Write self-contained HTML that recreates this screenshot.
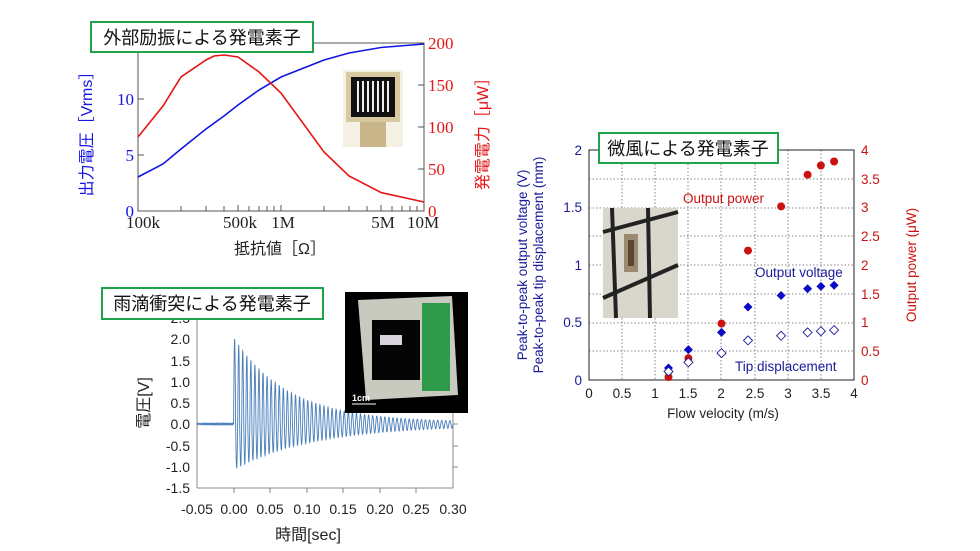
<!DOCTYPE html>
<html><head><meta charset="utf-8">
<style>
html,body{margin:0;padding:0;background:#fff;}
svg{display:block;}
.ser{font-family:"Liberation Serif","Noto Serif CJK SC",serif;}
.sans{font-family:"Liberation Sans","Noto Sans CJK JP",sans-serif;}
</style></head>
<body>
<svg id="s" width="980" height="551" viewBox="0 0 980 551" xmlns="http://www.w3.org/2000/svg">
<rect width="980" height="551" fill="#fff"/>

<!-- ===== Chart 1 ===== -->
<g>
<rect x="138" y="43" width="286" height="168" fill="none" stroke="#555" stroke-width="1"/>
<g stroke="#555" stroke-width="1">
<line x1="138" y1="155" x2="144" y2="155"/><line x1="138" y1="99" x2="144" y2="99"/>
<line x1="424" y1="169" x2="418" y2="169"/><line x1="424" y1="127" x2="418" y2="127"/><line x1="424" y1="85" x2="418" y2="85"/>
<line x1="181" y1="211" x2="181" y2="206"/><line x1="206" y1="211" x2="206" y2="206"/><line x1="224" y1="211" x2="224" y2="206"/>
<line x1="238" y1="211" x2="238" y2="205"/><line x1="249" y1="211" x2="249" y2="206"/><line x1="259" y1="211" x2="259" y2="206"/><line x1="267" y1="211" x2="267" y2="206"/><line x1="274" y1="211" x2="274" y2="206"/>
<line x1="281" y1="211" x2="281" y2="205"/><line x1="324" y1="211" x2="324" y2="206"/><line x1="349" y1="211" x2="349" y2="206"/><line x1="367" y1="211" x2="367" y2="206"/><line x1="381" y1="211" x2="381" y2="205"/><line x1="392" y1="211" x2="392" y2="206"/><line x1="402" y1="211" x2="402" y2="206"/><line x1="410" y1="211" x2="410" y2="206"/><line x1="417" y1="211" x2="417" y2="206"/>
</g>
<polyline fill="none" stroke="#1414e6" stroke-width="1.6" points="138,177 163,164 181,149 206,129 224,116 238,105 259,90 281,77 324,60 349,53 381,47.5 424,44"/>
<polyline fill="none" stroke="#e61414" stroke-width="1.6" points="138,137 163,106 181,77 206,60 214,56 224,55 238,57 259,72 281,93 324,152 349,176 381,192.5 424,202"/>
<g class="ser" font-size="17" fill="#1414e6" text-anchor="end">
<text x="134" y="217">0</text><text x="134" y="161">5</text><text x="134" y="105">10</text>
</g>
<g class="ser" font-size="17" fill="#e61414">
<text x="428" y="217">0</text><text x="428" y="175">50</text><text x="428" y="133">100</text><text x="428" y="91">150</text><text x="428" y="49">200</text>
</g>
<g class="ser" font-size="17" fill="#222" text-anchor="middle">
<text x="143" y="228">100k</text><text x="240" y="228">500k</text><text x="283" y="228">1M</text><text x="383" y="228">5M</text><text x="423" y="228">10M</text>
</g>
<text class="sans" font-size="16" fill="#222" x="280" y="254" text-anchor="middle">抵抗値［Ω］</text>
<text class="sans" font-size="16" fill="#1414e6" transform="translate(92,130) rotate(-90)" text-anchor="middle">出力電圧［Vrms］</text>
<text class="sans" font-size="16" fill="#e61414" transform="translate(488,130) rotate(-90)" text-anchor="middle">発電電力［μW］</text>
<rect x="343" y="70" width="60" height="77" fill="#f4f0e4"/>
<rect x="346" y="72" width="54" height="50" fill="#d8c9a0"/>
<rect x="351" y="77" width="44" height="40" fill="#111"/>
<g stroke="#eee" stroke-width="2"><line x1="358" y1="81" x2="358" y2="112"/><line x1="363" y1="81" x2="363" y2="112"/><line x1="368" y1="81" x2="368" y2="112"/><line x1="373" y1="81" x2="373" y2="112"/><line x1="378" y1="81" x2="378" y2="112"/><line x1="383" y1="81" x2="383" y2="112"/><line x1="388" y1="81" x2="388" y2="112"/></g>
<rect x="360" y="122" width="26" height="25" fill="#c9b58a"/>
<rect x="91" y="22" width="222" height="30" fill="#fff" stroke="#1fa34a" stroke-width="2"/>
<text class="sans" font-size="18" fill="#111" x="202" y="44" text-anchor="middle">外部励振による発電素子</text>
</g>

<!-- ===== Chart 2 ===== -->
<g>
<g stroke="#888" stroke-width="1" fill="none">
<line x1="197" y1="318" x2="197" y2="488"/><line x1="197" y1="488" x2="453" y2="488"/>
<line x1="453" y1="318" x2="453" y2="488"/>
</g>
<g stroke="#888" stroke-width="1">
<line x1="453" y1="318" x2="458" y2="318"/><line x1="453" y1="339" x2="458" y2="339"/><line x1="453" y1="361" x2="458" y2="361"/><line x1="453" y1="382" x2="458" y2="382"/><line x1="453" y1="403" x2="458" y2="403"/><line x1="453" y1="424" x2="458" y2="424"/><line x1="453" y1="446" x2="458" y2="446"/><line x1="453" y1="467" x2="458" y2="467"/>
<line x1="234" y1="488" x2="234" y2="493"/><line x1="270" y1="488" x2="270" y2="493"/><line x1="307" y1="488" x2="307" y2="493"/><line x1="343" y1="488" x2="343" y2="493"/><line x1="380" y1="488" x2="380" y2="493"/><line x1="416" y1="488" x2="416" y2="493"/>
</g>
<path id="sig" fill="none" stroke="#4a7ebb" stroke-width="0.9" d=""/>
<g class="sans" font-size="14" fill="#222" text-anchor="end">
<text x="190" y="323">2.5</text><text x="190" y="344">2.0</text><text x="190" y="366">1.5</text><text x="190" y="387">1.0</text><text x="190" y="408">0.5</text><text x="190" y="429">0.0</text><text x="190" y="451">-0.5</text><text x="190" y="472">-1.0</text><text x="190" y="493">-1.5</text>
</g>
<g class="sans" font-size="14" fill="#222" text-anchor="middle">
<text x="197" y="514">-0.05</text><text x="234" y="514">0.00</text><text x="270" y="514">0.05</text><text x="307" y="514">0.10</text><text x="343" y="514">0.15</text><text x="380" y="514">0.20</text><text x="416" y="514">0.25</text><text x="453" y="514">0.30</text>
</g>
<text class="sans" font-size="16" fill="#222" x="308" y="540" text-anchor="middle">時間[sec]</text>
<text class="sans" font-size="16" fill="#222" transform="translate(149,403) rotate(-90)" text-anchor="middle">電圧[V]</text>
<rect x="345" y="292" width="123" height="121" fill="#000"/>
<path d="M358,300 L452,296 L458,395 L366,400 Z" fill="#c8cac0"/>
<rect x="372" y="320" width="48" height="60" fill="#050505"/>
<rect x="380" y="335" width="22" height="10" fill="#d8d4de"/>
<rect x="422" y="303" width="28" height="88" fill="#2e9a4a"/>
<line x1="352" y1="404" x2="376" y2="404" stroke="#fff" stroke-width="1"/>
<text class="sans" font-size="9" font-weight="bold" fill="#fff" x="352" y="401">1cm</text>
<rect x="102" y="288" width="221" height="31" fill="#fff" stroke="#1fa34a" stroke-width="2"/>
<text class="sans" font-size="18" fill="#111" x="212" y="310" text-anchor="middle">雨滴衝突による発電素子</text>
</g>

<!-- ===== Chart 3 ===== -->
<g>
<g stroke="#666" stroke-width="0.8" stroke-dasharray="1.5,2">
<line x1="622" y1="150" x2="622" y2="380"/><line x1="655" y1="150" x2="655" y2="380"/><line x1="688" y1="150" x2="688" y2="380"/><line x1="721" y1="150" x2="721" y2="380"/><line x1="755" y1="150" x2="755" y2="380"/><line x1="788" y1="150" x2="788" y2="380"/><line x1="821" y1="150" x2="821" y2="380"/>
<line x1="589" y1="179" x2="854" y2="179"/><line x1="589" y1="208" x2="854" y2="208"/><line x1="589" y1="236" x2="854" y2="236"/><line x1="589" y1="265" x2="854" y2="265"/><line x1="589" y1="294" x2="854" y2="294"/><line x1="589" y1="323" x2="854" y2="323"/><line x1="589" y1="351" x2="854" y2="351"/>
</g>
<rect x="589" y="150" width="265" height="230" fill="none" stroke="#222" stroke-width="1"/>
<g class="sans" font-size="13.5" fill="#1a1a9a" text-anchor="end">
<text x="582" y="385">0</text><text x="582" y="327">0.5</text><text x="582" y="270">1</text><text x="582" y="212">1.5</text><text x="582" y="155">2</text>
</g>
<g class="sans" font-size="13.5" fill="#cc1111">
<text x="861" y="385">0</text><text x="861" y="356">0.5</text><text x="861" y="327">1</text><text x="861" y="299">1.5</text><text x="861" y="270">2</text><text x="861" y="241">2.5</text><text x="861" y="212">3</text><text x="861" y="184">3.5</text><text x="861" y="155">4</text>
</g>
<g class="sans" font-size="13.5" fill="#222" text-anchor="middle">
<text x="589" y="398">0</text><text x="622" y="398">0.5</text><text x="655" y="398">1</text><text x="688" y="398">1.5</text><text x="721" y="398">2</text><text x="755" y="398">2.5</text><text x="788" y="398">3</text><text x="821" y="398">3.5</text><text x="854" y="398">4</text>
</g>
<text class="sans" font-size="13.5" fill="#222" x="723" y="418" text-anchor="middle">Flow velocity (m/s)</text>
<text class="sans" font-size="13.5" fill="#1a1a9a" transform="translate(527,265) rotate(-90)" text-anchor="middle">Peak-to-peak output voltage (V)</text>
<text class="sans" font-size="13.5" fill="#1a1a9a" transform="translate(543,265) rotate(-90)" text-anchor="middle">Peak-to-peak tip displacement (mm)</text>
<text class="sans" font-size="13.5" fill="#cc1111" transform="translate(916,265) rotate(-90)" text-anchor="middle">Output power (μW)</text>
<rect x="603" y="208" width="75" height="110" fill="#d9d7cc"/>
<g stroke="#222" stroke-width="4"><line x1="603" y1="232" x2="678" y2="212"/><line x1="603" y1="298" x2="678" y2="265"/><line x1="612" y1="208" x2="616" y2="318"/><line x1="648" y1="208" x2="650" y2="318"/></g>
<rect x="624" y="234" width="14" height="38" fill="#9a8a70"/>
<rect x="628" y="240" width="6" height="26" fill="#5a4630"/>
<g fill="#cc1111">
<circle cx="668.5" cy="377.1" r="4"/><circle cx="688.4" cy="358.2" r="4"/><circle cx="721.5" cy="323.6" r="4"/><circle cx="748" cy="250.6" r="4"/><circle cx="781.1" cy="206.4" r="4"/><circle cx="807.6" cy="174.7" r="4"/><circle cx="820.9" cy="165.5" r="4"/><circle cx="834.1" cy="161.5" r="4"/>
</g>
<g fill="#0a0ac8">
<path d="M668.5,363.5 l4.5,4.5 -4.5,4.5 -4.5,-4.5z"/><path d="M688.4,345.1 l4.5,4.5 -4.5,4.5 -4.5,-4.5z"/><path d="M721.5,327.9 l4.5,4.5 -4.5,4.5 -4.5,-4.5z"/><path d="M748,302.5 l4.5,4.5 -4.5,4.5 -4.5,-4.5z"/><path d="M781.1,291 l4.5,4.5 -4.5,4.5 -4.5,-4.5z"/><path d="M807.6,284.2 l4.5,4.5 -4.5,4.5 -4.5,-4.5z"/><path d="M820.9,281.9 l4.5,4.5 -4.5,4.5 -4.5,-4.5z"/><path d="M834.1,280.7 l4.5,4.5 -4.5,4.5 -4.5,-4.5z"/>
</g>
<g fill="#fff" stroke="#1a1a9a" stroke-width="0.9">
<path d="M668.5,367 l4.5,4.5 -4.5,4.5 -4.5,-4.5z"/><path d="M688.4,357.8 l4.5,4.5 -4.5,4.5 -4.5,-4.5z"/><path d="M721.5,348.6 l4.5,4.5 -4.5,4.5 -4.5,-4.5z"/><path d="M748,335.9 l4.5,4.5 -4.5,4.5 -4.5,-4.5z"/><path d="M781.1,331.3 l4.5,4.5 -4.5,4.5 -4.5,-4.5z"/><path d="M807.6,327.9 l4.5,4.5 -4.5,4.5 -4.5,-4.5z"/><path d="M820.9,326.7 l4.5,4.5 -4.5,4.5 -4.5,-4.5z"/><path d="M834.1,325.6 l4.5,4.5 -4.5,4.5 -4.5,-4.5z"/>
</g>
<g class="sans" font-size="13.5">
<text x="683" y="203" fill="#cc1111">Output power</text>
<text x="755" y="277" fill="#1a1a9a">Output voltage</text>
<text x="735" y="371" fill="#1a1a9a">Tip displacement</text>
</g>
<rect x="599" y="133" width="179" height="30" fill="#fff" stroke="#1fa34a" stroke-width="2"/>
<text class="sans" font-size="18" fill="#111" x="688" y="155" text-anchor="middle">微風による発電素子</text>
</g>
</svg>
<script>
(function(){
var d="";var x0=233.6,k=731,y0=424,s=42.5;
for(var i=0;i<=1750;i++){var t=-0.05+i*0.0002;var v;
if(t<0){v=0.01*Math.sin(i*1.7);}else{var ph=2*Math.PI*180*t;var sn=Math.sin(ph);
var ap=2.0*Math.exp(-t/0.075)+0.04, an=1.05*Math.exp(-t/0.11)+0.03;v=sn>0?sn*ap:sn*an;}
var X=x0+t*k,Y=y0-v*s;d+=(i?"L":"M")+X.toFixed(1)+","+Y.toFixed(1);}
document.getElementById("sig").setAttribute("d",d);})();
</script>
</body></html>
